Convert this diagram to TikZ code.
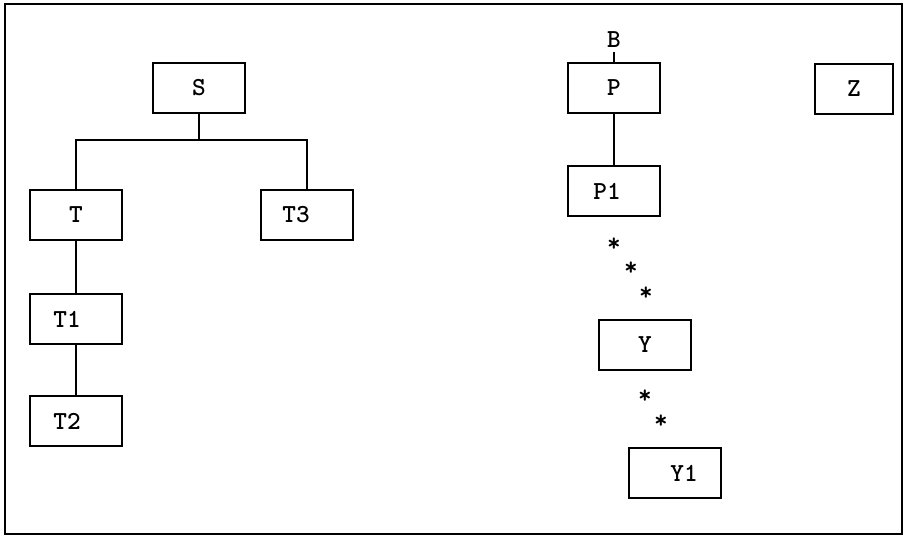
\documentclass[tikz,border=0pt]{standalone}
\usepackage{tikz}
\usetikzlibrary{positioning}

\begin{document}
\begin{tikzpicture}[x=1pt, y=-1pt, font=\ttfamily\bfseries\fontsize{26}{30}\selectfont,
		box/.style={rectangle, draw, line width=2pt, minimum width=92pt, minimum height=50pt},
		link/.style={line width=1.5pt}]
		\useasboundingbox (0,0) rectangle (905,537);
		\draw[line width=2.5pt] (5,4) rectangle (902,534);
		% left tree
		\node (S)  at (199, 88) [box] {S};
		\node (T)  at ( 76,215) [box] {T};
		\node (T3) at (307,215) [box] {T3\hspace*{22pt}};
		\node (T1) at ( 76,319) [box] {T1\hspace*{18pt}};
		\node (T2) at ( 76,421) [box] {T2\hspace*{18pt}};
		\coordinate (SJ) at (199,140);
		\draw[link] (S) -- (SJ);
		\draw[link] (T) |- (SJ) -| (T3);
		\draw[link] (T) -- (T1);
		\draw[link] (T1) -- (T2);
		% right part
		\node (B)  at (614, 40) [inner sep=4pt] {B};
		\node (P)  at (614, 88) [box] {P};
		\node (Z)  at (854, 89) [box, minimum width=78pt] {Z};
		\node (P1) at (614,191) [box] {P1\hspace*{14pt}};
		\node (Y)  at (645,345) [box] {Y};
		\node (Y1) at (675,473) [box] {\hspace*{18pt}Y1};
		\draw[link] (B) -- (P);
		\draw[link] (P) -- (P1);
		\node (st1) at (614,245) {*};
		\node (st2) at (631,269) {*};
		\node (st3) at (646,294) {*};
		\node (st4) at (645,397) {*};
		\node (st5) at (661,422) {*};
\end{tikzpicture}
\end{document}
